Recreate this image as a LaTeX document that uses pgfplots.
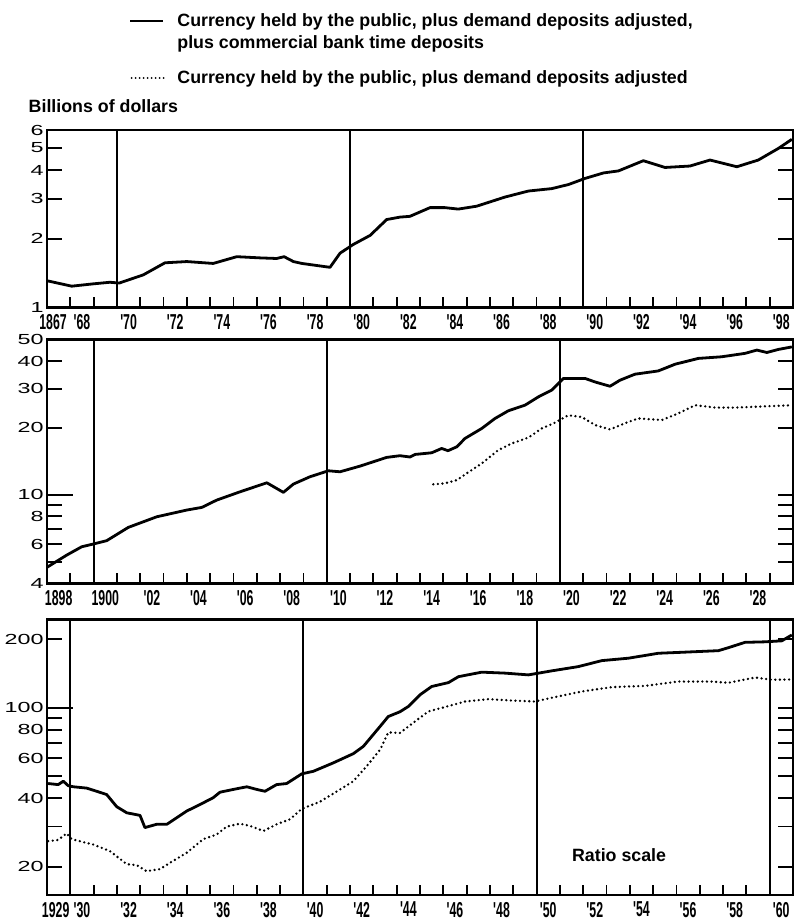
\documentclass[border=0pt]{standalone}
\usepackage{pgfplots}
\pgfplotsset{compat=1.18}
\usepackage{pgfplotstable}
\usetikzlibrary{calc}
\usepackage{fontspec}
\setmainfont{Liberation Sans}
\newfontfamily\legfont[FakeStretch=1.0]{Liberation Sans}
\newfontfamily\ylfont[FakeStretch=1.6]{Liberation Sans}
\newfontfamily\xlfont[FakeStretch=0.57]{Liberation Sans}
\tikzset{yeartick/.style={black, line width=0.9pt}}

\pgfplotstableread{
yr v
1867.0 1.31
1868.06 1.24
1869.0 1.27
1869.7 1.29
1870.1 1.28
1871.13 1.39
1872.06 1.57
1873.0 1.59
1874.13 1.56
1875.14 1.67
1876.14 1.65
1876.85 1.64
1877.17 1.67
1877.57 1.59
1877.93 1.56
1879.14 1.50
1879.57 1.73
1880.14 1.89
1880.86 2.07
1881.57 2.43
1882.14 2.49
1882.57 2.51
1883.43 2.74
1884.07 2.74
1884.64 2.70
1885.43 2.78
1886.65 3.05
1887.65 3.24
1888.65 3.32
1889.37 3.46
1890.08 3.68
1890.87 3.89
1891.51 3.97
1892.58 4.40
1893.51 4.11
1894.58 4.17
1895.44 4.43
1896.59 4.14
1897.51 4.43
1898.37 4.98
1898.95 5.46
}\pA

\pgfplotstableread{
yr v
1898.0 4.72
1898.85 5.36
1899.49 5.84
1899.99 6.01
1900.56 6.22
1901.49 7.14
1902.71 7.97
1903.99 8.54
1904.64 8.78
1905.28 9.47
1906.28 10.32
1907.43 11.33
1908.14 10.26
1908.57 11.18
1909.28 12.06
1910.07 12.83
1910.57 12.70
1911.43 13.47
1912.57 14.74
1913.14 15.00
1913.57 14.80
1913.79 15.20
1914.50 15.46
1914.93 16.17
1915.20 15.80
1915.58 16.45
1915.93 17.94
1916.65 19.90
1917.22 22.07
1917.79 23.89
1918.51 25.34
1919.08 27.60
1919.65 29.60
1920.15 33.40
1921.08 33.40
1921.51 32.20
1922.15 30.80
1922.58 32.80
1923.22 34.90
1924.22 36.10
1924.94 38.70
1925.94 41.10
1926.94 41.80
1927.94 43.30
1928.45 44.80
1928.88 43.70
1929.37 45.10
1929.95 46.30
}\pBs

\pgfplotstableread{
yr v
1914.57 11.15
1915.07 11.27
1915.58 11.65
1916.00 12.49
1916.65 13.85
1917.36 15.90
1917.94 17.04
1918.65 18.10
1919.22 19.90
1919.72 20.95
1920.36 22.80
1920.94 22.40
1921.51 20.60
1922.15 19.70
1922.94 21.30
1923.37 22.07
1924.37 21.70
1925.08 23.25
1925.80 25.30
1926.66 24.70
1927.51 24.70
1928.37 24.90
1929.95 25.30
}\pBd

\pgfplotstableread{
yr v
1929.05 46.4
1929.48 45.9
1929.70 47.5
1929.91 45.4
1930.13 44.9
1930.70 44.3
1931.13 42.9
1931.56 41.5
1931.99 36.7
1932.42 34.5
1932.99 33.6
1933.20 29.7
1933.70 30.7
1934.14 30.7
1934.99 35.1
1935.56 37.5
1936.13 40.2
1936.42 42.5
1936.99 43.7
1937.57 44.9
1938.00 43.7
1938.35 42.9
1938.85 45.9
1939.28 46.4
1939.93 51.2
1940.42 52.5
1941.28 57.2
1942.14 62.8
1942.57 67.6
1943.29 82.8
1943.64 91.5
1944.14 96.0
1944.50 101.3
1945.00 114.0
1945.50 124.0
1946.22 129.0
1946.65 137.0
1947.65 143.4
1948.65 142.0
1949.65 139.5
1950.65 145.3
1951.79 151.7
1952.80 161.2
1953.94 165.2
1955.23 173.7
1956.23 175.4
1957.80 178.3
1958.23 183.8
1958.94 194.0
1959.80 195.0
1960.52 197.0
1960.95 209.0
}\pCs

\pgfplotstableread{
yr v
1929.05 25.9
1929.48 26.2
1929.84 28.0
1930.06 26.4
1930.99 25.0
1931.70 23.4
1932.42 20.5
1932.85 20.3
1933.27 19.1
1933.85 19.5
1934.28 20.8
1934.99 23.0
1935.70 26.4
1936.28 27.7
1936.71 30.0
1937.28 30.9
1937.71 30.2
1938.28 28.7
1938.85 30.7
1939.42 32.3
1939.93 35.9
1940.71 38.6
1941.57 43.7
1942.14 47.5
1942.71 55.3
1943.29 65.4
1943.64 77.9
1944.14 77.5
1944.79 87.1
1945.36 96.3
1946.07 100.7
1946.93 106.5
1947.93 109.1
1948.94 107.6
1949.92 106.5
1950.79 111.4
1951.94 117.9
1953.22 123.2
1954.65 124.8
1956.08 130.4
1957.50 130.4
1958.23 128.8
1959.37 135.8
1960.09 132.8
1960.95 133.2
}\pCd

\pgfplotsset{
  panel/.style={
    anchor=south west, scale only axis, width=373pt,
    axis line style={line width=1.3pt},
    tick align=inside, xtick pos=left, ytick pos=both,
    major tick length=7.5pt,
    xtick style={draw=none},
    ytick style={black, line width=0.9pt},
    yminorticks=false, xminorticks=false,
    yticklabel style={font=\ylfont\fontsize{7.3}{8}\selectfont, inner sep=1.5pt},
    xticklabel style={font=\xlfont\bfseries\fontsize{10.8}{11}\selectfont, xshift=5.83pt},
    extra x tick style={grid=major, major grid style={black, line width=1pt}},
  },
  solidline/.style={black, line width=1.4pt, line join=round, no marks},
  dotline/.style={black, line width=1.3pt, line cap=round, dash pattern=on 0pt off 2.3pt, no marks},
}

\begin{document}
\begin{tikzpicture}
\useasboundingbox (0,0) rectangle (397.5pt,459.5pt);

% legend
\draw[line width=0.9pt] (65pt,449.15pt) -- (81.65pt,449.15pt);
\node[anchor=base west, inner sep=0, font=\legfont\bfseries\fontsize{8.9}{10}\selectfont] at (88.5pt,446.15pt) {Currency held by the public, plus demand deposits adjusted,};
\node[anchor=base west, inner sep=0, font=\legfont\bfseries\fontsize{8.9}{10}\selectfont] at (88.5pt,435.25pt) {plus commercial bank time deposits};
\draw[line width=1pt, line cap=round, dash pattern=on 0pt off 2pt] (65.8pt,420.5pt) -- (82.5pt,420.5pt);
\node[anchor=base west, inner sep=0, font=\legfont\bfseries\fontsize{8.9}{10}\selectfont] at (88.5pt,417.5pt) {Currency held by the public, plus demand deposits adjusted};
\node[anchor=base west, inner sep=0, font=\legfont\bfseries\fontsize{8.9}{10}\selectfont] at (14.15pt,403.15pt) {Billions of dollars};

% panel 1
\begin{semilogyaxis}[panel, name=p1, at={(23.5pt,305.75pt)}, height=88.75pt,
  xmin=1867, xmax=1899, ymin=1, ymax=6,
  xtick={1867,...,1899},
  xticklabels={{\makebox[0pt]{\kern-5.6pt 1867}},'68,,'70,,'72,,'74,,'76,,'78,,'80,,'82,,'84,,'86,,'88,,'90,,'92,,'94,,'96,,'98,},
  extra x ticks={1870,1880,1890}, extra x tick labels={},
  ytick={1,2,3,4,5,6}, yticklabels={1,2,3,4,5,6},
]
\addplot[solidline] table[x=yr,y=v] {\pA};
\end{semilogyaxis}
\foreach \i in {1,...,31} {\draw[yeartick] ($(p1.south west)!\i/32!(p1.south east)$) -- ++(0,5pt);}

% panel 2
\begin{semilogyaxis}[panel, name=p2, at={(23.5pt,167.85pt)}, height=121.9pt,
  xmin=1898, xmax=1930, ymin=4, ymax=50,
  xtick={1898,...,1930},
  xticklabels={1898,,1900,,'02,,'04,,'06,,'08,,'10,,'12,,'14,,'16,,'18,,'20,,'22,,'24,,'26,,'28,,},
  extra x ticks={1900,1910,1920}, extra x tick labels={},
  ytick={4,5,6,7,8,9,10,20,30,40,50}, yticklabels={4,,6,,8,,10,20,30,40,50},
]
\addplot[solidline] table[x=yr,y=v] {\pBs};
\addplot[dotline] table[x=yr,y=v] {\pBd};
\draw[yeartick] (axis cs:1898,10) -- ([xshift=13pt]axis cs:1898,10);
\end{semilogyaxis}
\foreach \i in {1,...,31} {\draw[yeartick] ($(p2.south west)!\i/32!(p2.south east)$) -- ++(0,5pt);}

% panel 3
\begin{semilogyaxis}[panel, name=p3, at={(23.5pt,12pt)}, height=137.85pt,
  xmin=1929, xmax=1961, ymin=15, ymax=245,
  xtick={1929,...,1961},
  xticklabels={{\makebox[0pt]{\kern-3pt 1929}},'30,,'32,,'34,,'36,,'38,,'40,,'42,,'44,,'46,,'48,,'50,,'52,,'54,,'56,,'58,,'60,},
  extra x ticks={1930,1940,1950,1960}, extra x tick labels={},
  ytick={20,30,40,50,60,70,80,90,100,200}, yticklabels={20,,40,,60,,80,,100,200},
]
\addplot[solidline] table[x=yr,y=v] {\pCs};
\addplot[dotline] table[x=yr,y=v] {\pCd};
\draw[yeartick] (axis cs:1929,100) -- ([xshift=13pt]axis cs:1929,100);
\end{semilogyaxis}
\foreach \i in {1,...,31} {\draw[yeartick] ($(p3.south west)!\i/32!(p3.south east)$) -- ++(0,5pt);}

\node[anchor=base west, inner sep=0, font=\legfont\bfseries\fontsize{8.9}{10}\selectfont] at (285.85pt,28.5pt) {Ratio scale};
\end{tikzpicture}
\end{document}
